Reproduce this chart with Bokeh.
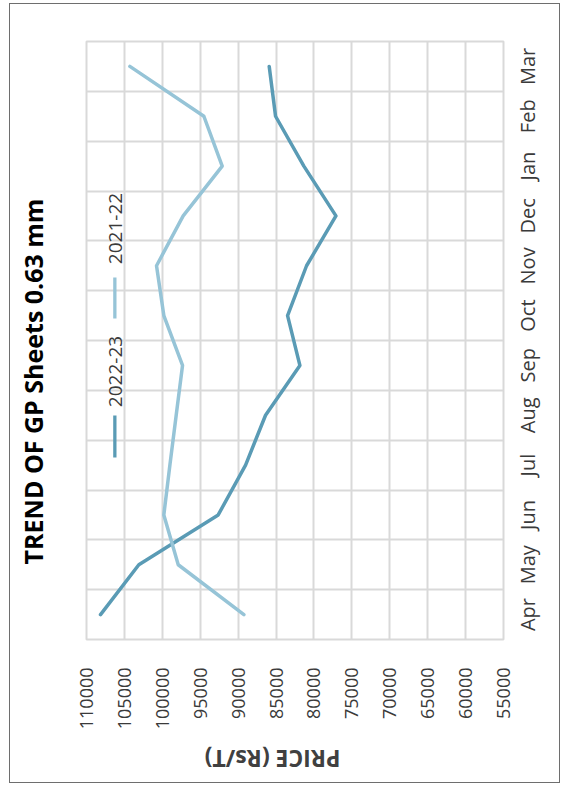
from math import pi
from bokeh.plotting import figure
from bokeh.layouts import column, row
from bokeh.models import Range1d, FixedTicker, NumeralTickFormatter, Label, BoxAnnotation
from bokeh.embed import file_html
from bokeh.resources import INLINE

# ---- data ----
months = ["Apr", "May", "Jun", "Jul", "Aug", "Sep", "Oct", "Nov", "Dec", "Jan", "Feb", "Mar"]
price_2022_23 = [108150, 103100, 92630, 89020, 86385, 81855, 83480, 80975, 77100, 81330, 85065, 85900]
price_2021_22 = [89240, 97900, 99800, 99000, 98170, 97335, 99800, 100765, 97250, 92100, 94520, 104280]
price_ticks = list(range(55000, 110001, 5000))
series_names = ["2022-23", "2021-22"]
title_text = "TREND OF GP Sheets 0.63 mm"
axis_title = "PRICE (Rs/T)"

DARK = "#5a9bb5"
LIGHT = "#96c4d7"
GRID = "#d9d9d9"
TXT = "#3a3a3a"
FONT = "Open Sans"
MONTH_SIZE = 20

# approximate Open Sans advance widths (em) used to centre rotated month labels
OPEN_SANS_W = {"A": .633, "p": .613, "r": .408, "M": .899, "a": .556, "y": .499, "J": .27,
               "u": .613, "n": .613, "l": .258, "g": .546, "S": .539, "e": .561, "O": .781,
               "c": .478, "t": .352, "N": .768, "o": .604, "v": .499, "D": .715, "F": .518,
               "b": .613}


def text_width(s, size):
    return sum(OPEN_SANS_W.get(ch, 0.55) for ch in s) * size


pos = [i + 0.5 for i in range(len(months))]

# ---- layout sizes (content box 549 x 778 inside a 1px border) ----
TOTAL_W, TOTAL_H = 549, 778
T_W = 64                      # strip holding the rotated title
P_W = TOTAL_W - T_W           # main chart
P_H = 730
Q_H = TOTAL_H - P_H           # strip holding the upside-down axis title
TOP, LEFT, RIGHT = 37, 12, 56
FRAME_BOTTOM = 635            # content y of the plot-area bottom
BOTTOM = P_H - FRAME_BOTTOM

p = figure(width=P_W, height=P_H, output_backend="svg", toolbar_location=None,
           x_range=Range1d(max(price_ticks), min(price_ticks)),
           y_range=Range1d(0, len(months)),
           y_axis_location="right",
           min_border_left=LEFT, min_border_right=RIGHT, min_border_top=TOP, min_border_bottom=BOTTOM)
p.background_fill_color = "white"
p.border_fill_color = "white"
p.outline_line_color = GRID
p.outline_line_width = 2

# grids
p.xgrid.ticker = FixedTicker(ticks=price_ticks)
p.ygrid.ticker = FixedTicker(ticks=list(range(len(months) + 1)))
for g in (p.xgrid, p.ygrid):
    g.grid_line_color = GRID
    g.grid_line_width = 2

# price axis (bottom)
xa = p.xaxis[0]
xa.ticker = FixedTicker(ticks=price_ticks)
xa.formatter = NumeralTickFormatter(format="0")
xa.major_label_orientation = pi / 2
xa.axis_line_color = None
xa.major_tick_line_color = None
xa.minor_tick_line_color = None
xa.major_label_standoff = 22
xa.major_label_text_font = FONT
xa.major_label_text_font_size = "18px"
xa.major_label_text_color = TXT

# month axis (right); rotated labels start at the tick, so shift ticks by half a label
frame_h = FRAME_BOTTOM - TOP
unit_px = frame_h / len(months)
month_ticks = [pv - text_width(m, MONTH_SIZE) / 2 / unit_px for pv, m in zip(pos, months)]
ya = p.yaxis[0]
ya.ticker = FixedTicker(ticks=month_ticks)
ya.major_label_overrides = {t: m for t, m in zip(month_ticks, months)}
ya.major_label_orientation = pi / 2
ya.axis_line_color = None
ya.major_tick_line_color = None
ya.minor_tick_line_color = None
ya.major_label_standoff = 18
ya.major_label_text_font = FONT
ya.major_label_text_font_size = f"{MONTH_SIZE}px"
ya.major_label_text_color = TXT

# series
p.line(price_2022_23, pos, line_color=DARK, line_width=3.5, line_join="round", line_cap="round")
p.line(price_2021_22, pos, line_color=LIGHT, line_width=3.5, line_join="round", line_cap="round")

# legend (rotated)
p.add_layout(Label(x=29, y=268, x_units="screen", y_units="screen", text=series_names[0],
                   angle=pi / 2, text_align="center", text_baseline="middle",
                   text_font=FONT, text_font_size="19px", text_color=TXT))
p.add_layout(Label(x=29, y=411, x_units="screen", y_units="screen", text=series_names[1],
                   angle=pi / 2, text_align="center", text_baseline="middle",
                   text_font=FONT, text_font_size="19px", text_color=TXT))
p.add_layout(BoxAnnotation(left=26.7, right=30, bottom=182, top=224,
                           left_units="screen", right_units="screen",
                           bottom_units="screen", top_units="screen",
                           fill_color=DARK, fill_alpha=1, line_color=None))
p.add_layout(BoxAnnotation(left=26.7, right=30, bottom=321, top=362,
                           left_units="screen", right_units="screen",
                           bottom_units="screen", top_units="screen",
                           fill_color=LIGHT, fill_alpha=1, line_color=None))


def strip(w, h, **borders):
    f = figure(width=w, height=h, output_backend="svg", toolbar_location=None,
               x_range=Range1d(0, 1), y_range=Range1d(0, 1),
               x_axis_location=None, y_axis_location=None, **borders)
    f.grid.visible = False
    f.outline_line_color = None
    f.background_fill_color = "white"
    f.border_fill_color = "white"
    return f


# left strip: chart title (rotated, reads bottom-to-top)
t = strip(T_W, TOTAL_H, min_border_left=0, min_border_right=0,
          min_border_top=TOP, min_border_bottom=TOTAL_H - FRAME_BOTTOM)
t.add_layout(Label(x=22, y=258, x_units="screen", y_units="screen", text=title_text,
                   angle=pi / 2, text_align="center", text_baseline="middle",
                   text_font=FONT, text_font_style="bold", text_font_size="25px",
                   text_color="#000000"))

# bottom strip: value-axis title (upside down)
q = strip(P_W, Q_H, min_border_left=LEFT, min_border_right=RIGHT,
          min_border_top=0, min_border_bottom=0)
q.add_layout(Label(x=272 - 10 - T_W - LEFT, y=24, x_units="screen", y_units="screen", text=axis_title,
                   angle=pi, text_align="center", text_baseline="middle",
                   text_font=FONT, text_font_style="bold", text_font_size="23px",
                   text_color="#404040"))

p_all = row(t, column(p, q, spacing=0), spacing=0)
p_all.styles = {"border": "1px solid #6e6e6e", "margin-left": "9px", "margin-top": "3px"}

open("out.html", "w").write(file_html(p_all, INLINE))
